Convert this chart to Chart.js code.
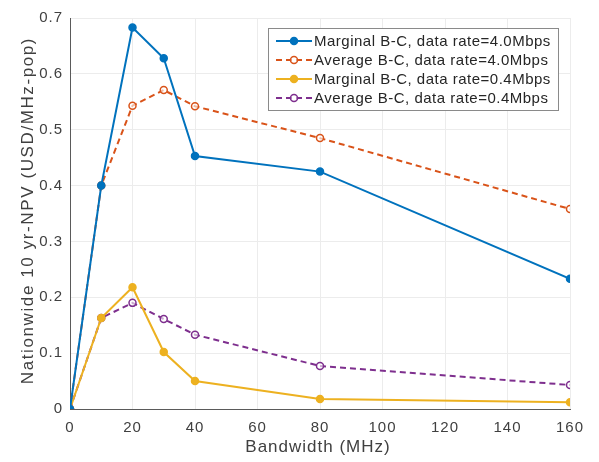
<!DOCTYPE html>
<html>
<head>
<meta charset="utf-8">
<script src="https://cdn.jsdelivr.net/npm/chart.js@4/dist/chart.umd.min.js"></script>
<style>
  html, body { margin: 0; padding: 0; background: #fff; }
  #wrap { width: 599px; height: 462px; position: relative; }
</style>
</head>
<body>
<div id="wrap"><canvas id="chart-canvas" width="599" height="462"></canvas></div>
<script>
const bandwidth = [0, 10, 20, 30, 40, 80, 160];
const marginal40 = [0, 0.40, 0.683, 0.628, 0.453, 0.425, 0.233];
const average40 = [0, 0.40, 0.543, 0.571, 0.542, 0.485, 0.358];
const marginal04 = [0, 0.163, 0.218, 0.102, 0.05, 0.018, 0.012];
const average04 = [0, 0.163, 0.19, 0.161, 0.133, 0.077, 0.043];
const xTicks = [0, 20, 40, 60, 80, 100, 120, 140, 160];
const yTicks = [0, 0.1, 0.2, 0.3, 0.4, 0.5, 0.6, 0.7];
const xTitle = "Bandwidth (MHz)";
const yTitle = "Nationwide 10 yr-NPV (USD/MHz-pop)";

const font = "'Liberation Sans', Arial, sans-serif";
const textColor = "#404040";

function pts(values) {
  return bandwidth.map((b, i) => ({ x: b, y: values[i] }));
}

function series(label, values, color, dashed) {
  return {
    label: label,
    data: pts(values),
    borderColor: color,
    backgroundColor: dashed ? "#ffffff" : color,
    borderWidth: 2,
    borderDash: dashed ? [6, 4] : [],
    pointRadius: 3.5,
    pointBorderWidth: 1.5,
    pointBackgroundColor: dashed ? "rgba(255,255,255,0.6)" : color,
    pointBorderColor: color,
    tension: 0,
    fill: false,
  };
}

// wider letter spacing for tick labels, like the original figure
const spacing = {
  id: "spacing",
  beforeDraw(chart) {
    chart.ctx.letterSpacing = "1px";
  },
};

// axis titles and legend drawn by hand
const decorations = {
  id: "decorations",
  afterDraw(chart) {
    const ctx = chart.ctx;
    const area = chart.chartArea;
    ctx.save();
    ctx.fillStyle = textColor;
    ctx.textAlign = "center";
    ctx.textBaseline = "middle";
    ctx.font = "17px " + font;
    ctx.letterSpacing = "1px";
    ctx.fillText(xTitle, (area.left + area.right) / 2 - 2, 447);
    ctx.translate(28, (area.top + area.bottom) / 2 - 3);
    ctx.rotate(-Math.PI / 2);
    ctx.letterSpacing = "1.6px";
    ctx.fillText(yTitle, 0, 0);
    ctx.restore();

    const left = 268, top = 28, w = 290, h = 82;
    ctx.save();
    ctx.fillStyle = "#ffffff";
    ctx.fillRect(left, top, w, h);
    ctx.strokeStyle = "#8a8a8a";
    ctx.lineWidth = 1;
    ctx.strokeRect(left + 0.5, top + 0.5, w, h);
    chart.data.datasets.forEach((ds, i) => {
      const y = top + 13 + i * 19;
      ctx.strokeStyle = ds.borderColor;
      ctx.lineWidth = 2;
      ctx.setLineDash(ds.borderDash);
      ctx.beginPath();
      ctx.moveTo(left + 8, y);
      ctx.lineTo(left + 44, y);
      ctx.stroke();
      ctx.setLineDash([]);
      ctx.beginPath();
      ctx.arc(left + 26, y, 3.5, 0, Math.PI * 2);
      ctx.fillStyle = ds.pointBackgroundColor;
      ctx.fill();
      ctx.lineWidth = 1.5;
      ctx.stroke();
      ctx.fillStyle = "#262626";
      ctx.font = "15px " + font;
      ctx.letterSpacing = "0.5px";
      ctx.textAlign = "left";
      ctx.textBaseline = "middle";
      ctx.fillText(ds.label, left + 46, y + 1);
    });
    ctx.restore();
  },
};

new Chart(document.getElementById("chart-canvas"), {
  type: "line",
  data: {
    datasets: [
      series("Marginal B-C, data rate=4.0Mbps", marginal40, "#0072BD", false),
      series("Average B-C, data rate=4.0Mbps", average40, "#D95319", true),
      series("Marginal B-C, data rate=0.4Mbps", marginal04, "#EDB120", false),
      series("Average B-C, data rate=0.4Mbps", average04, "#7E2F8E", true),
    ],
  },
  options: {
    responsive: false,
    animation: false,
    layout: { padding: { top: 18, right: 29, left: 0, bottom: 0 } },
    plugins: { legend: { display: false }, tooltip: { enabled: false } },
    scales: {
      x: {
        type: "linear",
        min: 0,
        max: 160,
        afterBuildTicks(scale) {
          scale.ticks = xTicks.map((v) => ({ value: v }));
        },
        afterFit(scale) { scale.height = 53; },
        grid: { color: "#ececec", tickLength: 0 },
        border: { color: "#5a5a5a" },
        ticks: { color: textColor, font: { family: font, size: 15 }, padding: 10, maxRotation: 0 },
      },
      y: {
        min: 0,
        max: 0.7,
        afterBuildTicks(scale) {
          scale.ticks = yTicks.map((v) => ({ value: v }));
        },
        afterFit(scale) { scale.width = 70; },
        grid: { color: "#ececec", tickLength: 0 },
        border: { color: "#5a5a5a" },
        ticks: { color: textColor, font: { family: font, size: 15 }, padding: 7, callback: (v) => String(+v.toFixed(1)) },
      },
    },
  },
  plugins: [spacing, decorations],
});
</script>
</body>
</html>
